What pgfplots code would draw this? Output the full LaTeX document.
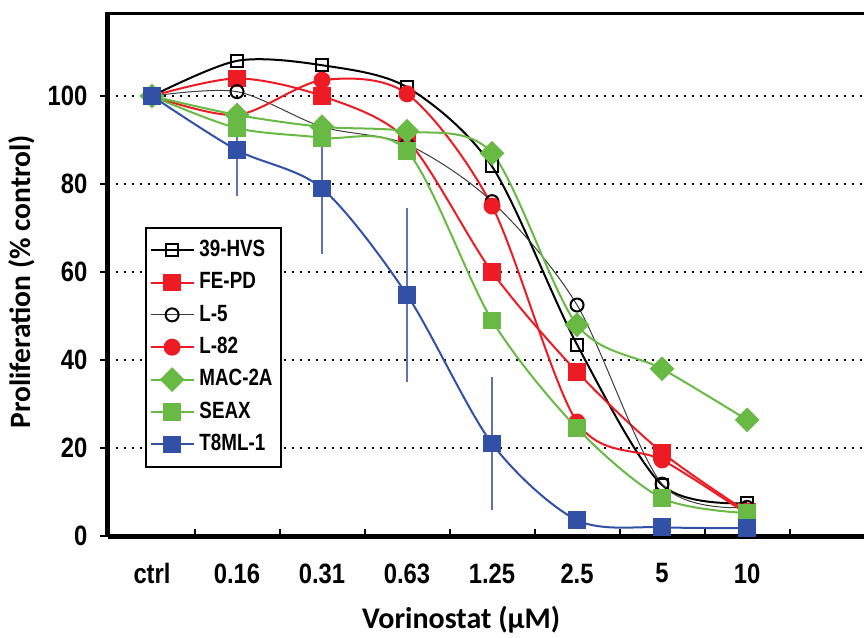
\documentclass[border=0pt]{standalone}
\usepackage{fontspec}
\usepackage{pgfplots}
\pgfplotsset{compat=1.18}
\setmainfont{Liberation Sans}
\newfontfamily\narrowfont[FakeStretch=0.85]{Liberation Sans}
\newfontfamily\legfont[FakeStretch=0.8]{Liberation Sans}
\newfontfamily\calfont{Carlito}

\definecolor{cRed}{RGB}{237,28,36}
\definecolor{cGreen}{RGB}{104,186,68}
\definecolor{cBlue}{RGB}{50,80,165}
\definecolor{cBar}{RGB}{95,115,178}
\definecolor{cThin}{RGB}{60,60,60}

\begin{document}
\begin{tikzpicture}
\useasboundingbox (-43.2pt,-40.4pt) rectangle (302.4pt,214.4pt);
\begin{axis}[
    at={(0,0)}, anchor=south west,
    scale only axis,
    width=302.4pt, height=209.6pt,
    xmin=-0.518, xmax=8.376,
    ymin=0, ymax=119.1,
    axis x line*=bottom, axis y line*=left,
    axis line style={line width=2pt, -},
    xtick={0,...,7},
    xticklabels={ctrl,0.16,0.31,0.63,1.25,2.5,5,10},
    minor xtick={0.5,1.5,...,7.5},
    major x tick style={draw=none},
    minor x tick style={line width=0.8pt, black},
    xtick align=inside,
    minor tick length=2.8pt,
    ytick={0,20,...,100},
    ytick align=outside,
    major tick length=3.2pt,
    y tick style={line width=0.8pt, black},
    ymajorgrids,
    grid style={black, line width=0.8pt, dash pattern=on 0.8pt off 2.4pt},
    /pgf/number format/assume math mode=true,
    tick label style={font=\narrowfont\bfseries\fontsize{11.2}{12}\selectfont},
    xticklabel style={yshift=-7.5pt},
    yticklabel style={xshift=-1.5pt},
    xlabel={Vorinostat (µM)},
    xlabel style={at={(axis description cs:0.467,-0.160)}, anchor=center,
        font=\calfont\bfseries\fontsize{12}{14}\selectfont},
    ylabel={Proliferation (\% control)},
    ylabel style={at={(axis description cs:-0.114,0.485)}, anchor=center,
        font=\calfont\bfseries\fontsize{11.8}{13}\selectfont},
    legend style={at={(rel axis cs:0.049,0.590)}, anchor=north west,
        draw=black, line width=0.8pt, fill=white,
        font=\legfont\bfseries\fontsize{9.4}{10}\selectfont,
        row sep=0.9pt, inner xsep=1.5pt, inner ysep=3pt},
    legend cell align=left,
]
\addplot[black, line width=0.8pt, smooth, mark=square, mark size=2.4pt,
    mark options={line width=0.8pt, fill=white, solid}]
    coordinates {(0,100)(1,108)(2,107)(3,102)(4,84)(5,43.5)(6,11.6)(7,7.5)};
\addlegendentry{39-HVS}
\addplot[cRed, line width=0.8pt, smooth, mark=square*, mark size=3.1pt]
    coordinates {(0,100)(1,104)(2,100)(3,90)(4,60)(5,37.3)(6,19)(7,5.5)};
\addlegendentry{FE-PD}
\addplot[cThin, line width=0.4pt, smooth, mark=o, mark size=2.6pt,
    mark options={black, line width=0.8pt, fill=white}]
    coordinates {(0,100)(1,101)(2,93)(3,89)(4,76)(5,52.5)(6,11.8)(7,6.5)};
\addlegendentry{L-5}
\addplot[cRed, line width=0.8pt, smooth, mark=*, mark size=3pt]
    coordinates {(0,100)(1,95.7)(2,103.6)(3,100.5)(4,75)(5,25.9)(6,17.3)(7,5)};
\addlegendentry{L-82}
\addplot[cGreen, line width=0.8pt, smooth, mark=square*, mark size=3.1pt,
    mark options={rotate=45}]
    coordinates {(0,100)(1,95.7)(2,93)(3,92)(4,87)(5,48)(6,38)(7,26.4)};
\addlegendentry{MAC-2A}
\addplot[cGreen, line width=0.8pt, smooth, mark=square*, mark size=3.1pt]
    coordinates {(0,100)(1,92.7)(2,90.5)(3,87.5)(4,49)(5,24.5)(6,8.6)(7,5.2)};
\addlegendentry{SEAX}
\addplot[cBlue, line width=0.8pt, smooth, mark=square*, mark size=3.1pt,
    error bars/.cd, y dir=both, y explicit, error mark=none,
    error bar style={cBar, line width=0.8pt}]
    coordinates {(0,100) +- (0,0) (1,87.7) +- (0,10.5) (2,79) +- (0,14.8)
        (3,54.8) +- (0,19.7) (4,21) +- (0,15.2) (5,3.6) +- (0,1.5)
        (6,2) +- (0,1.5) (7,1.8) +- (0,1.5)};
\addlegendentry{T8ML-1}
\draw[line width=2pt] (rel axis cs:0,1) -- (rel axis cs:1,1);
\end{axis}
\end{tikzpicture}
\end{document}
